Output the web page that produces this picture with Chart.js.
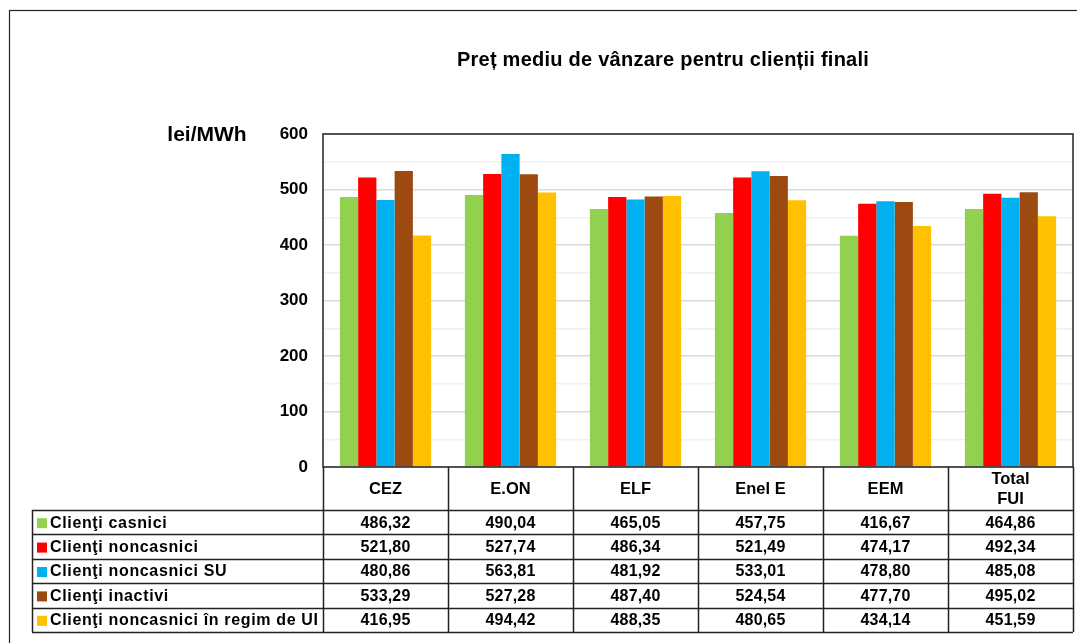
<!DOCTYPE html>
<html>
<head>
<meta charset="utf-8">
<script src="https://cdn.jsdelivr.net/npm/chart.js@4"></script>
<style>
  html, body { margin: 0; padding: 0; background: #fff; }
  #wrap { width: 1077px; height: 643px; }
</style>
</head>
<body>
<div id="wrap"><canvas id="chart" width="1077" height="643"></canvas></div>
<script>
// categories and series
const categories = ["CEZ", "E.ON", "ELF", "Enel E", "EEM", ["Total", "FUI"]];
const seriesNames = ["Clienţi casnici", "Clienţi noncasnici", "Clienţi noncasnici SU", "Clienţi inactivi", "Clienţi noncasnici în regim de UI"];
const casnici = [486.32, 490.04, 465.05, 457.75, 416.67, 464.86];
const noncasnici = [521.80, 527.74, 486.34, 521.49, 474.17, 492.34];
const noncasniciSU = [480.86, 563.81, 481.92, 533.01, 478.80, 485.08];
const inactivi = [533.29, 527.28, 487.40, 524.54, 477.70, 495.02];
const regimUI = [416.95, 494.42, 488.35, 480.65, 434.14, 451.59];
const seriesColors = ["#92d050", "#ff0000", "#00b0f0", "#9c4a10", "#ffc000"];
const yTicks = [0, 100, 200, 300, 400, 500, 600];

const titleText = "Preț mediu de vânzare pentru clienții finali";
const unitText = "lei/MWh";
const allSeries = [casnici, noncasnici, noncasniciSU, inactivi, regimUI];

const FONT = "'Liberation Sans', Arial, sans-serif";

// formats 486.32 -> 486,32
function fmt(v) {
    return v.toFixed(2).replace(".", ",");
}

// draws the frame, title, unit label and the data table
const tablePlugin = {
    id: "tablePlugin",
    beforeDraw(chart) {
        const ctx = chart.ctx;
        ctx.save();
        ctx.fillStyle = "#fff";
        ctx.fillRect(0, 0, chart.width, chart.height);
        ctx.restore();
    },
    afterDraw(chart) {
        const ctx = chart.ctx;
        const area = chart.chartArea;
        const xs = chart.scales.x;
        ctx.save();

        // outer frame
        ctx.strokeStyle = "#222";
        ctx.lineWidth = 1.2;
        ctx.strokeRect(9.5, 10.5, chart.width + 20, chart.height + 20);

        // title
        ctx.fillStyle = "#000";
        ctx.font = "bold 20px " + FONT;
        ctx.letterSpacing = "0.25px";
        ctx.textAlign = "center";
        ctx.textBaseline = "middle";
        ctx.fillText(titleText, 663, 60);

        // unit label
        ctx.font = "bold 21px " + FONT;
        ctx.letterSpacing = "0px";
        ctx.fillText(unitText, 207, 135);

        // plot border
        ctx.strokeStyle = "#222";
        ctx.lineWidth = 1.5;
        ctx.strokeRect(area.left, area.top, area.right - area.left, area.bottom - area.top);

        // table
        const headerH = 43;
        const rowH = 24.4;
        const colW = (area.right - area.left) / categories.length;
        const top = area.bottom;
        const dataTop = top + headerH;
        const bottom = dataTop + rowH * seriesNames.length;
        const tableLeft = 32;

        ctx.beginPath();
        // vertical lines through header and rows
        for (let i = 0; i <= categories.length; i++) {
            const x = Math.round(area.left + i * colW) + 0.5;
            ctx.moveTo(x, top);
            ctx.lineTo(x, bottom);
        }
        ctx.moveTo(tableLeft + 0.5, dataTop);
        ctx.lineTo(tableLeft + 0.5, bottom);
        // horizontal lines
        for (let r = 0; r <= seriesNames.length; r++) {
            const y = Math.round(dataTop + r * rowH) + 0.5;
            ctx.moveTo(tableLeft, y);
            ctx.lineTo(area.right, y);
        }
        ctx.stroke();

        // header labels
        ctx.font = "bold 16.5px " + FONT;
        ctx.textAlign = "center";
        categories.forEach((c, i) => {
            const cx = xs.getPixelForValue(i);
            const lines = Array.isArray(c) ? c : [c];
            lines.forEach((t, k) => {
                const cy = top + headerH / 2 + (k - (lines.length - 1) / 2) * 20;
                ctx.fillText(t, cx, cy + 1);
            });
        });

        // rows
        seriesNames.forEach((name, r) => {
            const cy = dataTop + r * rowH + rowH / 2 + 1;
            ctx.fillStyle = seriesColors[r];
            ctx.fillRect(37, cy - 5, 10, 10);
            ctx.fillStyle = "#000";
            ctx.textAlign = "left";
            ctx.font = "bold 16px " + FONT;
            ctx.letterSpacing = "0.65px";
            ctx.fillText(name, 50, cy);
            ctx.letterSpacing = "0.2px";
            ctx.textAlign = "center";
            allSeries[r].forEach((v, i) => {
                ctx.fillText(fmt(v), xs.getPixelForValue(i), cy);
            });
            ctx.letterSpacing = "0px";
        });

        ctx.restore();
    }
};

new Chart(document.getElementById("chart"), {
    type: "bar",
    data: {
        labels: categories,
        datasets: seriesNames.map((name, i) => ({
            label: name,
            data: allSeries[i],
            backgroundColor: seriesColors[i],
            borderWidth: 0,
            categoryPercentage: 0.73,
            barPercentage: 1.0,
        })),
    },
    options: {
        responsive: false,
        animation: false,
        layout: {
            padding: { left: 0, top: 134, right: 4, bottom: 176 },
        },
        plugins: {
            legend: { display: false },
            title: { display: false },
            tooltip: { enabled: false },
        },
        scales: {
            x: {
                display: false,
            },
            y: {
                min: 0,
                max: 600,
                afterFit(scale) {
                    scale.width = 323;
                },
                afterBuildTicks(scale) {
                    // major ticks plus the faint half-way lines
                    const t = [];
                    yTicks.forEach((v, i) => {
                        t.push({ value: v });
                        if (i < yTicks.length - 1) t.push({ value: v + 50 });
                    });
                    scale.ticks = t;
                },
                ticks: {
                    color: "#000",
                    padding: 15,
                    font: { family: FONT, size: 17, weight: "bold" },
                    callback: (v) => (yTicks.includes(v) ? v : ""),
                },
                grid: {
                    drawTicks: false,
                    color: (c) => (c.tick && yTicks.includes(c.tick.value) ? "#d9d9d9" : "#f0f0f0"),
                    lineWidth: 1.5,
                },
                border: { display: false },
            },
        },
    },
    plugins: [tablePlugin],
});
</script>
</body>
</html>
